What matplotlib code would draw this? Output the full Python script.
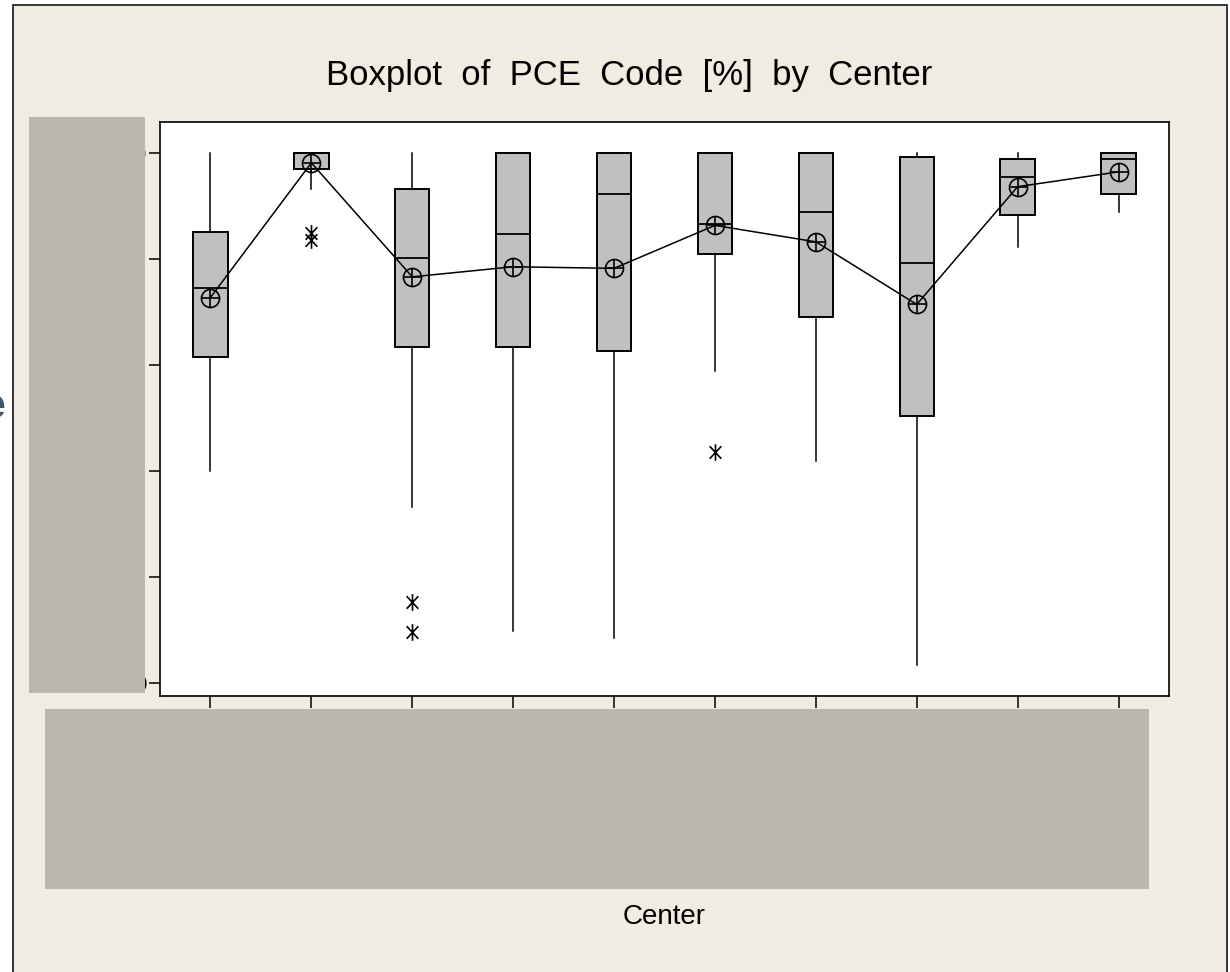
import matplotlib
matplotlib.use("Agg")
import matplotlib.pyplot as plt
from matplotlib.patches import Rectangle
from matplotlib.path import Path
from matplotlib import font_manager

# ---- data: PCE Code [%] summary per center ----
centers = ["1", "2", "3", "4", "5", "6", "7", "8", "9", "10"]
q1 = [61.4, 96.9, 63.3, 63.3, 62.6, 80.9, 69.0, 50.3, 88.2, 92.3]
medians = [74.4, 100.0, 80.1, 84.7, 92.3, 86.6, 88.9, 79.3, 95.4, 98.8]
q3 = [85.1, 100.0, 93.2, 100.0, 100.0, 100.0, 100.0, 99.2, 98.8, 100.0]
whisker_low = [40.0, 93.1, 33.2, 9.9, 8.4, 58.8, 41.9, 3.4, 82.3, 88.8]
whisker_high = [100.0, 100.0, 100.0, 100.0, 100.0, 100.0, 100.0, 100.0, 100.0, 100.0]
means = [72.7, 98.1, 76.6, 78.5, 78.2, 86.3, 83.2, 71.4, 93.6, 96.4]
outliers = [[], [84.8, 83.5], [15.3, 9.6], [], [], [43.6], [], [], [], []]
y_ticks = [0, 20, 40, 60, 80, 100]

W, H = 1230, 972
names = {f.name for f in font_manager.fontManager.ttflist}
narrow = "Liberation Sans Narrow" in names
font = ["Liberation Sans Narrow", "Liberation Sans", "DejaVu Sans"] if narrow else ["Liberation Sans", "DejaVu Sans"]

BG = "#F0ECE2"
MASK = "#BAB8AC"
BOX = "#C0C0C0"

fig = plt.figure(figsize=(W / 100, H / 100), dpi=100, facecolor="white")

def fx(px):
    return px / W

def fy(py):
    return 1 - py / H

# page frame
fig.patches.append(Rectangle((fx(13), -0.02), fx(1227) - fx(13), fy(5) + 0.02,
                             transform=fig.transFigure, facecolor=BG,
                             edgecolor="black", linewidth=1.1, zorder=-1))

ax = fig.add_axes([fx(160), fy(696), fx(1169) - fx(160), fy(122) - fy(696)])
ax.set_facecolor("white")

positions = list(range(1, len(centers) + 1))
stats = []
for i in range(len(centers)):
    stats.append(dict(label=centers[i], med=medians[i], q1=q1[i], q3=q3[i],
                      whislo=whisker_low[i], whishi=whisker_high[i],
                      fliers=outliers[i], mean=means[i]))

# asterisk symbol for outliers: one vertical stroke and two diagonals
star = Path([(0, -1), (0, 1), (-0.7, -0.75), (0.7, 0.75), (-0.7, 0.75), (0.7, -0.75)],
            [Path.MOVETO, Path.LINETO, Path.MOVETO, Path.LINETO, Path.MOVETO, Path.LINETO])

ax.bxp(stats, positions=positions, widths=0.34, patch_artist=True,
       showcaps=False, showmeans=False,
       boxprops=dict(facecolor=BOX, edgecolor="black", linewidth=1.4),
       medianprops=dict(color="black", linewidth=1.3),
       whiskerprops=dict(color="black", linewidth=1.1),
       flierprops=dict(marker=star, markersize=12, markeredgecolor="black",
                       markerfacecolor="none", markeredgewidth=1.2, linestyle="none"))

# mean connect line and mean symbols
ax.plot(positions, means, color="black", linewidth=1.1, zorder=4)
ax.plot(positions, means, linestyle="none", marker="o", markersize=13,
        markerfacecolor="none", markeredgecolor="black", markeredgewidth=1.2, zorder=5)
ax.plot(positions, means, linestyle="none", marker="+", markersize=13,
        markeredgecolor="black", markeredgewidth=1.2, zorder=5)

ax.set_xlim(0.5, len(centers) + 0.5)
ax.set_ylim(-2.45, 105.8)
ax.set_yticks(y_ticks)
ax.set_yticklabels([str(v) for v in y_ticks], fontsize=16, family=font)
ax.set_xticks(positions)
ax.set_xticklabels(centers, fontsize=16, family=font)
ax.tick_params(axis="both", direction="out", color="black", width=1.1)
ax.tick_params(axis="x", length=8.6, pad=4)
ax.tick_params(axis="y", length=8.0, pad=2)
for s in ax.spines.values():
    s.set_color("black")
    s.set_linewidth(1.2)

# grey blocks over the tick labels
fig.patches.append(Rectangle((fx(29), fy(693)), fx(145) - fx(29), fy(117) - fy(693),
                             transform=fig.transFigure, facecolor=MASK,
                             edgecolor="none", zorder=10))
fig.patches.append(Rectangle((fx(45), fy(889)), fx(1149) - fx(45), fy(709) - fy(889),
                             transform=fig.transFigure, facecolor=MASK,
                             edgecolor="none", zorder=10))

title_size = 26 if narrow else 25
fig.text(fx(629), fy(76), "Boxplot  of  PCE  Code  [%]  by  Center",
         ha="center", va="center", fontsize=title_size, family=font)
fig.text(fx(664), fy(917), "Center", ha="center", va="center",
         fontsize=23 if narrow else 20, family=font)

# edge of neighbouring text
fig.text(fx(-19), fy(418), "e", ha="left", va="baseline", fontsize=31,
         fontweight="bold", color="#3E5872", family=["Liberation Sans", "DejaVu Sans"])

fig.savefig("out.png", dpi=100, facecolor="white")
